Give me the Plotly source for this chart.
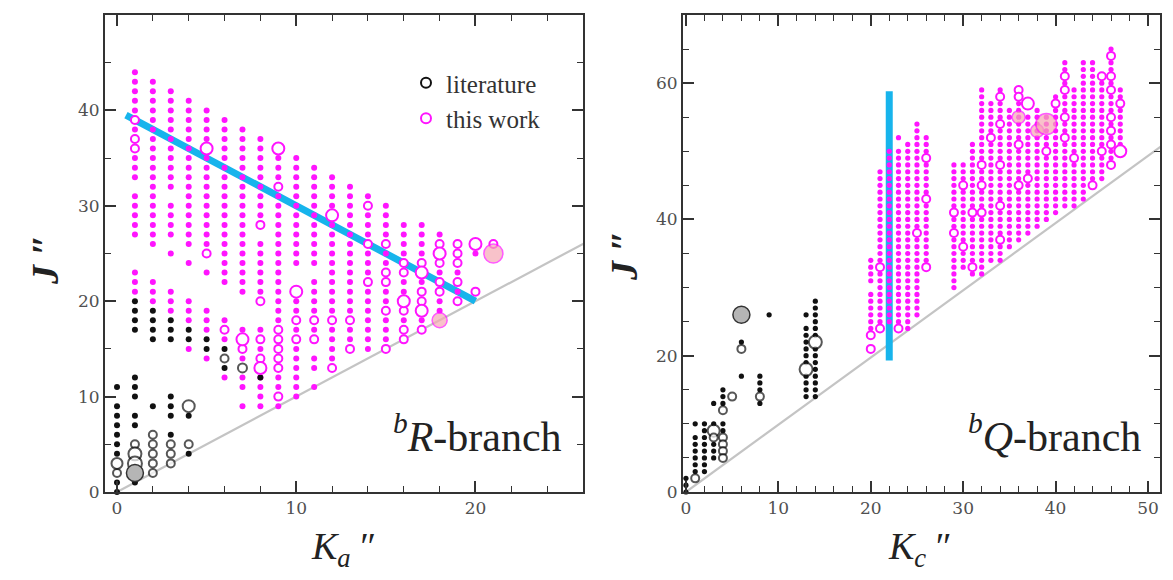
import plotly.graph_objects as go

# ================= DATA =================
# ---- left panel: bR-branch (x = Ka'', y = J'') ----
# "this work" small dots: per Ka column, runs of J (inclusive)
R_WORK_KA = [1, 2, 3, 4, 5, 6, 7, 8, 9, 10, 11, 12, 13, 14, 15, 16, 17, 18, 19, 20]
R_WORK_RUNS = [
    [(33, 44), (27, 31), (21, 23)],
    [(26, 43), (20, 22)],
    [(32, 42), (27, 30), (25, 25), (19, 21)],
    [(26, 41), (24, 24), (18, 20), (15, 15)],
    [(26, 40), (23, 23), (17, 19), (14, 14)],
    [(22, 39), (16, 18), (12, 12)],
    [(21, 38), (14, 17), (11, 12), (9, 9)],
    [(29, 37), (21, 26), (9, 17)],
    [(9, 35)],
    [(24, 35), (10, 20)],
    [(24, 34), (19, 22), (17, 17), (13, 14), (11, 11)],
    [(14, 33)],
    [(16, 32)],
    [(15, 31)],
    [(16, 30)],
    [(17, 28)],
    [(18, 28)],
    [(27, 27), (23, 23), (19, 20)],
    [(23, 23), (21, 21)],
    [(25, 25)],
]
# "this work" open circles (normal size)
R_OPEN_KA = [1, 5, 6, 7, 8, 9, 10, 11, 12, 13, 14, 15, 16, 17, 18, 19, 20, 21]
R_OPEN_J = [
    [39, 37, 36], [25], [17], [15], [28, 20, 16, 14], [32, 17, 16, 15, 14, 13, 10],
    [18, 16], [18, 16], [18, 13], [18, 15], [30, 26, 22], [26, 23, 22, 19, 15],
    [24, 23, 19, 17, 16], [24, 21, 20, 17], [26, 24, 22, 21], [26, 25, 24, 22, 20],
    [21], [26],
]
# "this work" large open circles
R_BIG_KA = [5, 9, 12, 10, 7, 8, 16, 17, 17, 18, 20]
R_BIG_J = [36, 36, 29, 21, 16, 13, 20, 23, 19, 25, 26]
# "this work" pink filled circles (Ka, J, size)
R_PINK_KA = [21, 18]
R_PINK_J = [25, 18]
R_PINK_S = [19, 15]
# literature small dots
R_LIT_KA = [0]*9 + [1]*10 + [2]*5 + [3]*7 + [4]*4 + [5]*2 + [6]*2 + [8]
R_LIT_J = ([11, 9, 8, 7, 6, 5, 4, 1, 0] +
           [12, 11, 10, 8, 7, 1, 17, 18, 19, 20] +
           [9, 16, 17, 18, 19] +
           [10, 9, 8, 6, 16, 17, 18] +
           [8, 4, 16, 17] +
           [15, 16] +
           [15, 13] +
           [12])
# literature open circles (Ka, J, size)
R_LITO_KA = [0, 0, 1, 1, 1, 2, 2, 2, 2, 2, 3, 3, 3, 4, 4, 6, 7]
R_LITO_J = [3, 2, 5, 4, 3, 6, 5, 4, 3, 2, 5, 4, 3, 9, 5, 14, 13]
R_LITO_S = [11, 8, 8, 13, 14, 8, 8, 8, 8, 8, 8, 8, 8, 12, 8, 8, 9]
# literature grey filled circle
R_GREY_KA = [1]
R_GREY_J = [2]
# guide lines
R_BLUE_KA = [0.5, 20]
R_BLUE_J = [39.5, 20]
R_DIAG_KA = [0, 26.5]
R_DIAG_J = [0, 26.5]

# ---- right panel: bQ-branch (x = Kc'', y = J'') ----
Q_WORK_KC = [20, 21, 22, 23, 24, 25, 26, 29, 30, 31, 32, 33, 34, 35, 36, 37, 38,
             39, 40, 41, 42, 43, 44, 45, 46, 47]
Q_WORK_RUNS = [
    [(31, 34), (24, 29)],
    [(34, 47), (25, 32)],
    [(25, 50)],
    [(25, 50), (52, 52)],
    [(24, 51)],
    [(26, 54)],
    [(34, 52)],
    [(30, 37), (39, 40), (42, 48)],
    [(33, 48)],
    [(32, 51)],
    [(32, 59)],
    [(34, 57)],
    [(34, 59)],
    [(36, 56)],
    [(37, 58)],
    [(38, 55)],
    [(39, 56)],
    [(40, 55)],
    [(41, 58)],
    [(42, 63)],
    [(42, 59)],
    [(43, 63)],
    [(45, 63)],
    [(46, 61)],
    [(48, 65)],
    [(51, 59)],
]
Q_OPEN_KC = [20, 21, 23, 25, 26, 29, 30, 31, 32, 33, 34, 36, 37, 39, 40, 41, 42,
             44, 45, 46, 47]
Q_OPEN_J = [
    [23, 21], [33, 24], [24], [38], [49, 43, 33], [41, 38], [45, 36], [41, 33],
    [48, 45, 41], [52], [58, 54, 48, 42, 37], [59, 58, 51, 45], [46], [50], [57],
    [61, 59, 55, 52], [49], [45], [61, 50], [64, 61, 59, 55, 53, 51, 48], [57],
]
Q_BIG_KC = [37, 47]
Q_BIG_J = [57, 50]
Q_PINK_KC = [36, 38, 39]
Q_PINK_J = [55, 53, 54]
Q_PINK_S = [13, 13, 21]
Q_LIT_KC = ([0]*3 + [1]*7 + [2]*8 + [3]*5 + [4]*5 + [6]*2 + [8]*4 + [9] +
            [13]*11 + [14]*14)
Q_LIT_J = ([0, 1, 2] +
           [3, 4, 5, 6, 7, 8, 10] +
           [3, 4, 5, 6, 7, 8, 9, 10] +
           [5, 6, 7, 10, 13] +
           [9, 10, 13, 14, 15] +
           [22, 17] +
           [13, 15, 16, 17] +
           [26] +
           [14, 15, 16, 17, 19, 20, 21, 22, 23, 24, 26] +
           [14, 15, 16, 17, 18, 19, 20, 21, 23, 24, 25, 26, 27, 28])
Q_LITO_KC = [1, 3, 3, 4, 4, 4, 4, 4, 5, 6, 8, 13, 14]
Q_LITO_J = [2, 9, 8, 12, 8, 7, 6, 5, 14, 21, 14, 18, 22]
Q_LITO_S = [8, 12, 8, 8, 8, 8, 8, 8, 8, 8, 8, 13, 13]
Q_GREY_KC = [6]
Q_GREY_J = [26]
Q_BLUE_KC = [22, 22]
Q_BLUE_J = [19.3, 58.8]
Q_DIAG_KC = [0, 51.5]
Q_DIAG_J = [0, 50.8]

LEGEND_NAMES = ["literature", "this work"]

# ================= STYLE =================
MAG = "#ff14ff"
BLK = "#111111"
BLUE = "#17b4ec"
GREY_LINE = "#c4c4c4"
SERIF = "Liberation Serif"
TICKFONT = dict(family="DejaVu Serif", size=17, color="#505050")


def expand(cols, runs):
    xs, ys = [], []
    for c, rr in zip(cols, runs):
        for a, b in rr:
            for j in range(a, b + 1):
                xs.append(c)
                ys.append(j)
    return xs, ys


def flat(cols, lists):
    xs, ys = [], []
    for c, l in zip(cols, lists):
        for j in l:
            xs.append(c)
            ys.append(j)
    return xs, ys


fig = go.Figure()


def add_panel(xa, ya, diag, blue, work_cols, work_runs, open_cols, open_js,
              big_x, big_y, pink_x, pink_y, pink_s, lit_x, lit_y,
              lito_x, lito_y, lito_s, grey_x, grey_y, dot):
    kw = dict(xaxis=xa, yaxis=ya, showlegend=False, hoverinfo="skip", cliponaxis=False)
    fig.add_trace(go.Scatter(x=diag[0], y=diag[1], mode="lines",
                             line=dict(color=GREY_LINE, width=2.2), **kw))
    fig.add_trace(go.Scatter(x=blue[0], y=blue[1], mode="lines",
                             line=dict(color=BLUE, width=7), **kw))
    wx, wy = expand(work_cols, work_runs)
    fig.add_trace(go.Scatter(x=wx, y=wy, mode="markers",
                             marker=dict(color=MAG, size=dot, line=dict(width=0)), **kw))
    fig.add_trace(go.Scatter(x=lit_x, y=lit_y, mode="markers",
                             marker=dict(color=BLK, size=dot, line=dict(width=0)), **kw))
    ox, oy = flat(open_cols, open_js)
    fig.add_trace(go.Scatter(x=ox, y=oy, mode="markers",
                             marker=dict(color="white", size=8, line=dict(color=MAG, width=2)), **kw))
    fig.add_trace(go.Scatter(x=big_x, y=big_y, mode="markers",
                             marker=dict(color="white", size=12, line=dict(color=MAG, width=2)), **kw))
    fig.add_trace(go.Scatter(x=lito_x, y=lito_y, mode="markers",
                             marker=dict(color="white", size=lito_s, line=dict(color=BLK, width=2)), **kw))
    fig.add_trace(go.Scatter(x=grey_x, y=grey_y, mode="markers",
                             marker=dict(color="#b5b5b5", size=17, line=dict(color="#333", width=1.5)), **kw))
    fig.add_trace(go.Scatter(x=pink_x, y=pink_y, mode="markers",
                             marker=dict(color="#f6a9b4", size=pink_s, line=dict(color=MAG, width=1.5)), **kw))


add_panel("x", "y", (R_DIAG_KA, R_DIAG_J), (R_BLUE_KA, R_BLUE_J),
          R_WORK_KA, R_WORK_RUNS, R_OPEN_KA, R_OPEN_J, R_BIG_KA, R_BIG_J,
          R_PINK_KA, R_PINK_J, R_PINK_S, R_LIT_KA, R_LIT_J,
          R_LITO_KA, R_LITO_J, R_LITO_S, R_GREY_KA, R_GREY_J, 6)
add_panel("x2", "y2", (Q_DIAG_KC, Q_DIAG_J), (Q_BLUE_KC, Q_BLUE_J),
          Q_WORK_KC, Q_WORK_RUNS, Q_OPEN_KC, Q_OPEN_J, Q_BIG_KC, Q_BIG_J,
          Q_PINK_KC, Q_PINK_J, Q_PINK_S, Q_LIT_KC, Q_LIT_J,
          Q_LITO_KC, Q_LITO_J, Q_LITO_S, Q_GREY_KC, Q_GREY_J, 5.2)

# legend entries
fig.add_trace(go.Scatter(x=[None], y=[None], mode="markers", name=LEGEND_NAMES[0],
                         marker=dict(color="white", size=10, line=dict(color=BLK, width=2)),
                         xaxis="x", yaxis="y"))
fig.add_trace(go.Scatter(x=[None], y=[None], mode="markers", name=LEGEND_NAMES[1],
                         marker=dict(color="white", size=10, line=dict(color=MAG, width=2)),
                         xaxis="x", yaxis="y"))

# page offset: the figure sits 8 px from the window's top-left corner
OFF = 8
W, H = 1173 - 2 * OFF, 580 - 2 * OFF


def px(xr):
    return (xr - OFF) / W


def py(yr):
    return 1 - (yr - OFF) / H


def axis(domain, rng, dtick, mdtick, anchor):
    return dict(domain=domain, range=rng, tick0=0, dtick=dtick, anchor=anchor,
                automargin=False,
                showline=True, linecolor="#333", linewidth=2, mirror="ticks",
                ticks="inside", ticklen=11, tickwidth=1.6, tickcolor="#333",
                minor=dict(ticks="inside", ticklen=6, tickwidth=1.3, tickcolor="#333",
                           dtick=mdtick, tick0=0),
                showgrid=False, zeroline=False, tickfont=TICKFONT, fixedrange=True)


fig.update_layout(
    width=W, height=H, margin=dict(l=0, r=0, t=0, b=0, autoexpand=False),
    paper_bgcolor="white", plot_bgcolor="white",
    xaxis=axis([px(105), px(583)], [-0.67, 26.0], 10, 2, "y"),
    yaxis=axis([py(492), py(15)], [0, 50], 10, 5, "x"),
    xaxis2=axis([px(683), px(1160)], [-0.32, 51.3], 10, 2, "y2"),
    yaxis2=axis([py(492), py(15)], [0, 70], 20, 5, "x2"),
    legend=dict(x=px(406), y=py(60), xanchor="left", yanchor="top",
                bgcolor="rgba(0,0,0,0)", font=dict(family=SERIF, size=25, color="#333"),
                tracegroupgap=0, itemwidth=30),
    showlegend=True,
)

ann = []
title_font = dict(family=SERIF, size=38, color="#222")
common = dict(xref="paper", yref="paper", showarrow=False)
ann.append(dict(text="<b><i>J</i> ″</b>", x=px(45), y=py(260), xanchor="center", yanchor="middle",
                textangle=-90, font=title_font, **common))
ann.append(dict(text="<b><i>J</i> ″</b>", x=px(624), y=py(256), xanchor="center", yanchor="middle",
                textangle=-90, font=title_font, **common))
ann.append(dict(text="<i>K<sub>a</sub></i> ″", x=px(343), y=py(549), xanchor="center", yanchor="middle",
                font=title_font, **common))
ann.append(dict(text="<i>K<sub>c</sub></i> ″", x=px(920), y=py(549), xanchor="center", yanchor="middle",
                font=title_font, **common))
br_font = dict(family=SERIF, size=42, color="#222")
ann.append(dict(text="<sup><i>b</i></sup><i>R</i>-branch", x=px(564), y=py(462),
                xanchor="right", yanchor="bottom", font=br_font, **common))
ann.append(dict(text="<sup><i>b</i></sup><i>Q</i>-branch", x=px(1143), y=py(462),
                xanchor="right", yanchor="bottom", font=br_font, **common))
fig.update_layout(annotations=ann)

fig.write_html("out.html")
